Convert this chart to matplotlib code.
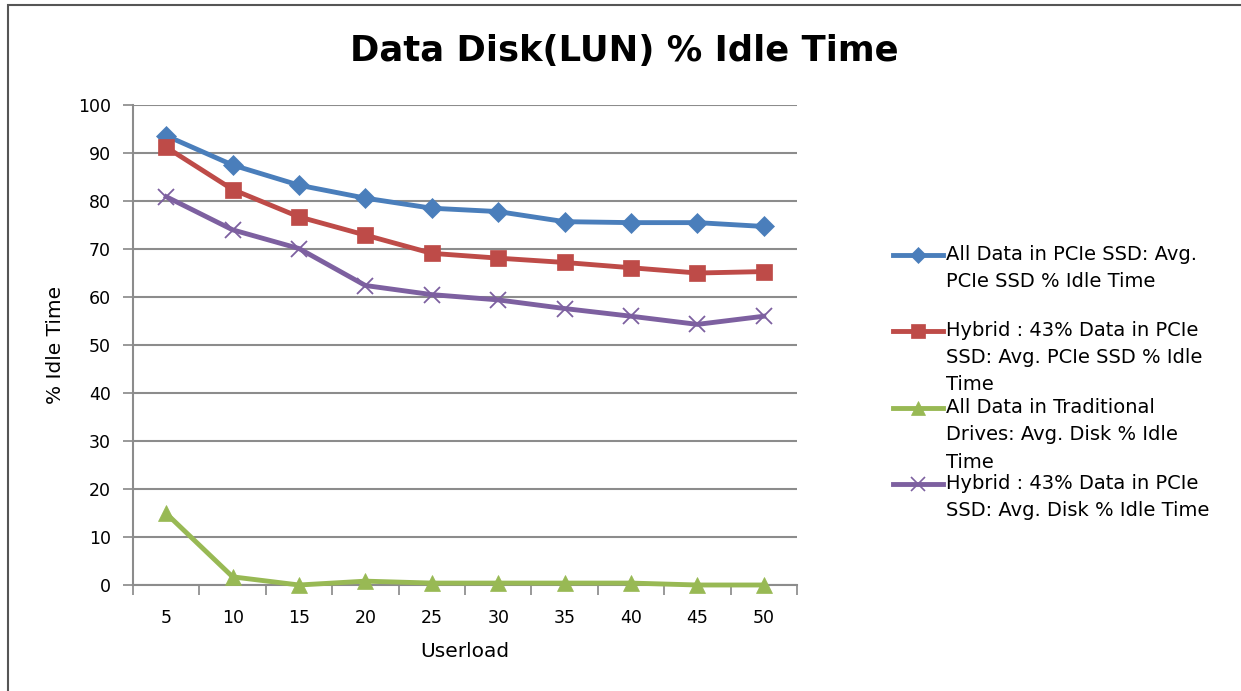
import matplotlib
matplotlib.use('Agg')
import matplotlib.pyplot as plt
from matplotlib.lines import Line2D
from matplotlib.patches import Rectangle

userload = [5, 10, 15, 20, 25, 30, 35, 40, 45, 50]
all_pcie = [93.6, 87.5, 83.3, 80.6, 78.5, 77.8, 75.7, 75.5, 75.5, 74.7]
hybrid_pcie = [91.2, 82.4, 76.7, 72.9, 69.1, 68.1, 67.2, 66.1, 65.0, 65.3]
all_trad = [14.9, 1.7, 0.0, 0.8, 0.4, 0.4, 0.4, 0.4, 0.0, 0.0]
hybrid_disk = [80.9, 74.0, 70.1, 62.4, 60.5, 59.4, 57.6, 56.0, 54.3, 56.0]

labels = ['All Data in PCIe SSD: Avg.\nPCIe SSD % Idle Time',
          'Hybrid : 43% Data in PCIe\nSSD: Avg. PCIe SSD % Idle\nTime',
          'All Data in Traditional\nDrives: Avg. Disk % Idle\nTime',
          'Hybrid : 43% Data in PCIe\nSSD: Avg. Disk % Idle Time']

series = [all_pcie, hybrid_pcie, all_trad, hybrid_disk]
colors = ['#4A7EBB', '#BE4B48', '#98B954', '#7D60A0']
markers = ['D', 's', '^', 'x']
msizes = [10, 12, 12, 12]

plt.rcParams['font.family'] = ['DejaVu Sans']

fig = plt.figure(figsize=(12.41, 6.91), dpi=100)
ax = fig.add_axes([0.1072, 0.1534, 0.535, 0.6946])

x = list(range(len(userload)))
for vals, c, m, ms in zip(series, colors, markers, msizes):
    ax.plot(x, vals, color=c, lw=3.5, marker=m, markersize=ms,
            markeredgewidth=1.3 if m == 'x' else 0.5, markeredgecolor=c,
            clip_on=False, zorder=3)

ax.set_xlim(-0.5, len(userload) - 0.5)
ax.set_ylim(0, 100)
ax.set_yticks(range(0, 101, 10))
ax.set_xticks(x)
ax.set_xticklabels([str(u) for u in userload])
ax.set_xticks([i - 0.5 for i in range(len(userload) + 1)], minor=True)
ax.tick_params(axis='x', which='major', length=0, labelsize=12.5, pad=17)
ax.tick_params(axis='x', which='minor', length=7, width=1.2, color='#888888', direction='out')
ax.tick_params(axis='y', length=7, width=1.2, color='#888888', labelsize=12.5, pad=9)

ax.grid(axis='y', color='#8c8c8c', lw=1.5)
ax.set_axisbelow(True)
for s in ['top', 'right']:
    ax.spines[s].set_visible(False)
ax.spines['left'].set_color('#8c8c8c')
ax.spines['bottom'].set_color('#8c8c8c')
ax.spines['left'].set_linewidth(1.5)
ax.spines['bottom'].set_linewidth(1.5)

ax.set_xlabel('Userload', fontsize=14.5, labelpad=11)
ax.set_ylabel('% Idle Time', fontsize=14.5, labelpad=9)

fig.text(0.503, 0.926, 'Data Disk(LUN) % Idle Time', ha='center', va='center',
         fontsize=25.5, fontweight='bold')

# legend, drawn by hand so the marker sits on the first text line
leg_top = [255, 331, 408, 484]
for lab, c, m, ms, yp in zip(labels, colors, markers, msizes, leg_top):
    yf = 1 - yp / 691
    fig.add_artist(Line2D([893 / 1241, 943 / 1241], [yf, yf], color=c, lw=3.5))
    fig.add_artist(Line2D([918 / 1241], [yf], color=c, marker=m, markersize=ms * 0.8,
                          markeredgewidth=1.2 if m == 'x' else 0.5, markeredgecolor=c))
    fig.text(946 / 1241, yf + 10 / 691, lab, ha='left', va='top', fontsize=14,
             linespacing=1.55)

fig.add_artist(Rectangle((8 / 1241, -0.1), 1.2, 1.1 - 5 / 691, transform=fig.transFigure,
                         fill=False, edgecolor='#555555', lw=1.5))

fig.savefig('out.png', dpi=100)
